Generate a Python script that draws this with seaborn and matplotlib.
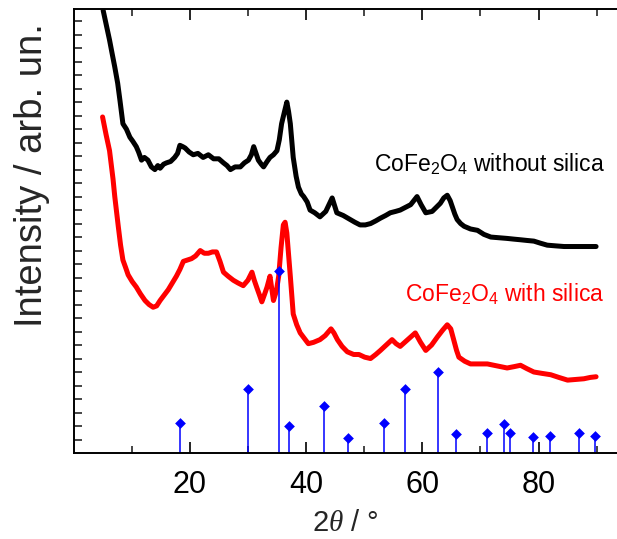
import numpy as np
import pandas as pd
import matplotlib
matplotlib.use("Agg")
import matplotlib.pyplot as plt
import seaborn as sns

# ---- data ----
black_x = [5.1, 5.6, 6.2, 6.6, 7.1, 7.6, 8.0, 8.5, 9.1, 9.7, 10.2, 10.8, 11.2, 11.7, 12.2,
           12.8, 13.4, 14.0, 14.5, 14.9, 15.5, 16.0, 16.7, 17.4, 17.9, 18.3, 18.8, 19.2,
           19.9, 20.6, 21.4, 22.3, 23.2, 24.1, 25.0, 25.8, 26.4, 27.0, 27.8, 28.7, 29.4,
           30.1, 30.6, 31.0, 31.4, 31.8, 32.3, 32.7, 33.3, 33.8, 34.4, 35.0, 35.4, 35.8,
           36.3, 36.7, 37.0, 37.3, 37.8, 38.3, 38.7, 39.2, 39.6, 40.2, 40.7, 41.5, 42.4,
           43.4, 44.5, 45.3, 46.4, 47.6, 48.4, 49.3, 50.2, 51.1, 52.0, 52.8, 53.7, 54.5,
           55.4, 56.2, 57.1, 58.0, 59.1, 59.8, 60.6, 61.7, 62.4, 63.1, 63.7, 64.3, 64.8,
           65.2, 65.6, 66.0, 66.6, 67.2, 68.3, 69.5, 70.6, 71.8, 73.2, 74.6, 75.7, 76.9,
           78.0, 79.2, 80.3, 81.5, 82.9, 84.4, 85.8, 87.3, 88.6, 89.9]
black_y = [32.8, 31.8, 30.6, 29.7, 28.6, 27.4, 26.1, 24.4, 24.0, 23.4, 23.1, 22.7, 22.3, 21.7, 21.9,
           21.7, 21.2, 21.0, 21.3, 21.1, 21.4, 21.5, 21.6, 21.9, 22.2, 22.8, 22.7, 22.6,
           22.3, 22.1, 22.2, 21.9, 22.1, 21.8, 21.8, 21.5, 21.3, 21.0, 21.2, 21.2, 21.5,
           21.7, 22.1, 22.7, 22.2, 21.7, 21.4, 21.2, 21.6, 21.9, 22.1, 22.4, 23.2, 24.4,
           25.3, 26.0, 25.3, 24.4, 21.9, 20.5, 19.7, 19.2, 19.0, 18.6, 18.0, 17.8, 17.5,
           17.9, 18.9, 17.8, 17.6, 17.3, 17.1, 16.9, 16.9, 17.0, 17.2, 17.4, 17.6, 17.8,
           17.9, 18.0, 18.2, 18.4, 19.0, 18.4, 17.8, 17.9, 18.2, 18.5, 18.9, 19.1, 18.7,
           18.2, 17.7, 17.3, 17.0, 16.8, 16.6, 16.5, 16.2, 16.0, 15.95, 15.9, 15.85, 15.8,
           15.75, 15.7, 15.55, 15.4, 15.35, 15.3, 15.3, 15.3, 15.3, 15.3]

red_x = [5.0, 5.6, 6.2, 6.8, 7.1, 7.7, 8.1, 8.5, 9.0, 9.4, 10.1, 10.8, 11.5, 12.3, 13.0,
         13.7, 14.3, 14.9, 15.6, 16.3, 17.0, 17.7, 18.3, 18.9, 19.6, 20.3, 21.0, 21.8,
         22.5, 23.2, 23.9, 24.6, 25.2, 25.8, 26.6, 27.5, 28.3, 29.2, 30.0, 30.7, 31.1,
         31.5, 32.0, 32.4, 32.9, 33.3, 33.8, 34.1, 34.4, 34.9, 35.3, 35.7, 36.1, 36.4,
         36.7, 37.0, 37.3, 37.8, 38.4, 39.0, 39.7, 40.4, 41.3, 42.4, 43.3, 44.3, 44.8,
         45.4, 46.2, 47.1, 48.2, 49.1, 50.1, 51.1, 52.0, 52.8, 53.8, 54.8, 55.5, 56.2,
         57.5, 58.8, 59.7, 60.6, 61.6, 62.6, 63.5, 64.3, 64.9, 65.4, 65.9, 66.3, 67.3,
         68.3, 69.7, 71.2, 72.9, 74.6, 75.8, 76.9, 78.0, 79.2, 80.6, 82.1, 83.5, 85.0,
         86.4, 87.8, 88.9, 89.9]
red_y = [24.9, 23.6, 22.4, 20.3, 19.0, 16.8, 15.4, 14.3, 13.7, 13.2, 12.7, 12.3, 11.8, 11.3, 11.0,
         10.8, 10.9, 11.3, 11.7, 12.1, 12.6, 13.1, 13.6, 14.2, 14.3, 14.4, 14.6, 15.0,
         14.8, 14.8, 14.9, 14.9, 14.2, 13.4, 13.1, 12.8, 12.6, 12.4, 12.8, 13.4, 12.8,
         12.3, 11.7, 11.2, 11.8, 12.3, 13.1, 12.2, 11.3, 12.0, 13.1, 15.2, 16.9, 17.1,
         16.3, 14.7, 13.1, 10.3, 9.5, 8.9, 8.5, 8.1, 8.2, 8.4, 8.7, 9.2, 8.9,
         8.4, 7.9, 7.5, 7.3, 7.3, 7.1, 7.0, 7.3, 7.6, 8.0, 8.4, 8.1, 7.9,
         8.4, 8.9, 8.2, 7.6, 8.0, 8.6, 9.1, 9.5, 9.2, 8.4, 7.6, 7.1, 6.8,
         6.6, 6.6, 6.6, 6.45, 6.3, 6.4, 6.5, 6.25, 6.0, 5.9, 5.8, 5.6, 5.4,
         5.45, 5.5, 5.6, 5.65]

ref_pos = [18.3, 30.1, 35.4, 37.0, 43.1, 47.2, 53.5, 57.1, 62.7, 65.8, 71.1, 74.1, 75.1,
           79.1, 82.0, 86.9, 89.8]
ref_int = [2.24, 4.72, 13.5, 2.0, 3.5, 1.13, 2.24, 4.74, 5.97, 1.38, 1.5, 2.12, 1.5,
           1.21, 1.24, 1.5, 1.24]

x_ticks = [20, 40, 60, 80]
label_without = r"CoFe$_2$O$_4$ without silica"
label_with = r"CoFe$_2$O$_4$ with silica"
x_label = r"2$\theta$ / °"
y_label = "Intensity / arb. un."

# ---- plotting ----
sns.set_theme(style="white")
plt.rcParams["font.family"] = ["Liberation Sans", "DejaVu Sans"]
plt.rcParams["mathtext.fontset"] = "custom"
plt.rcParams["mathtext.rm"] = "Liberation Sans"
plt.rcParams["mathtext.it"] = "Liberation Serif:italic"

fig = plt.figure(figsize=(6.17, 5.39), dpi=100)
ax = fig.add_axes([73.5 / 617, 1 - 453 / 539, 1 - 73.5 / 617, (453 - 9) / 539])

df_b = pd.DataFrame({"x": black_x, "y": black_y})
df_r = pd.DataFrame({"x": red_x, "y": red_y})
sns.lineplot(data=df_b, x="x", y="y", ax=ax, color="black", lw=3.6, sort=False,
             estimator=None)
sns.lineplot(data=df_r, x="x", y="y", ax=ax, color="#ff0000", lw=3.6, sort=False,
             estimator=None)

ax.vlines(ref_pos, 0, ref_int, color="#0000ff", lw=1.1)
df_ref = pd.DataFrame({"x": ref_pos, "y": ref_int})
sns.scatterplot(data=df_ref, x="x", y="y", ax=ax, marker="D", color="#0000ff",
                s=30, edgecolor="#0000ff", linewidth=0, zorder=5)

ax.text(91.4, 20.84, label_without, color="black", fontsize=16.5, ha="right",
        va="baseline")
ax.text(91.4, 11.2, label_with, color="#ff0000", fontsize=16.5, ha="right",
        va="baseline")

ax.set_xlim(0, 93.5)
ax.set_ylim(0, 32.9)
ax.set_xticks(x_ticks)
ax.set_xticks([10, 30, 50, 70, 90], minor=True)
ax.set_yticks(np.arange(1, 33))
ax.set_yticklabels([])
ax.tick_params(axis="x", which="major", direction="in", length=8, width=1.2,
               top=True, bottom=True, labelsize=22, pad=12, colors="black")
ax.tick_params(axis="x", which="minor", direction="in", length=5, width=1.2,
               top=True, bottom=True)
ax.tick_params(axis="y", which="major", direction="in", length=6, width=1.2,
               left=True, right=False)
for s in ["left", "bottom", "top"]:
    ax.spines[s].set_color("black")
    ax.spines[s].set_linewidth(1.4)
ax.spines["right"].set_visible(False)

ax.set_xlabel(x_label, fontsize=21)
ax.xaxis.set_label_coords(0.5, -0.127)
ax.set_ylabel(y_label, fontsize=27.5)
ax.yaxis.set_label_coords(-0.044, 0.626)
ax.legend_ = None

fig.savefig("out.png", dpi=100)
